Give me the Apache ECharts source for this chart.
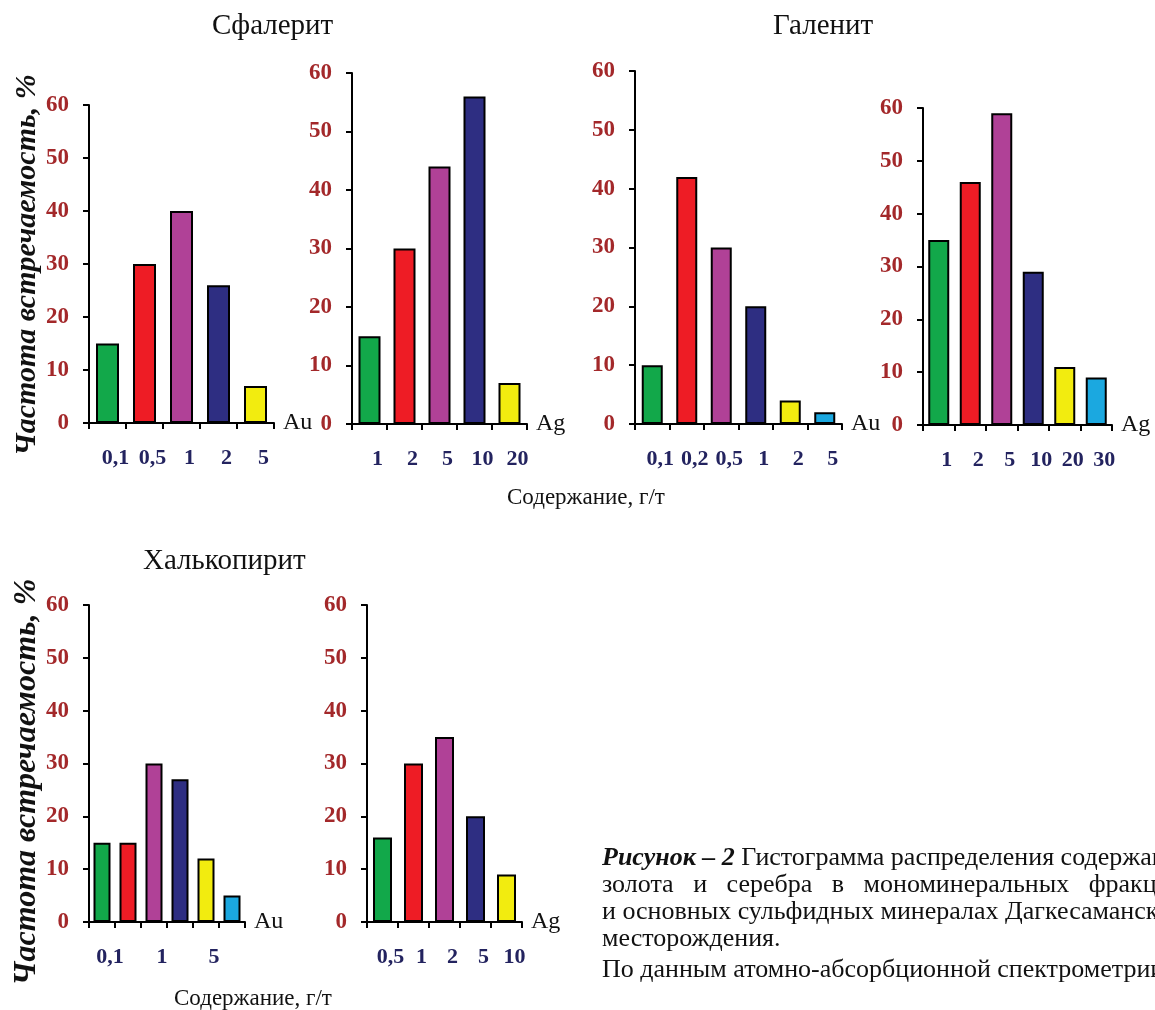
<!DOCTYPE html>
<html>
<head>
<meta charset="utf-8">
<script src="https://cdn.jsdelivr.net/npm/echarts@6/dist/echarts.min.js"></script>
<style>
html,body{margin:0;padding:0;background:#fff;}
#c{width:1155px;height:1010px;}
</style>
</head>
<body>
<div id="c"></div>
<script>
// ---- data ----
const sphAuCats = ['0,1', '0,5', '1', '2', '5'];
const sphAuVals = [15, 30, 40, 26, 7];
const sphAgCats = ['1', '2', '5', '10', '20'];
const sphAgVals = [15, 30, 44, 56, 7];
const galAuCats = ['0,1', '0,2', '0,5', '1', '2', '5'];
const galAuVals = [10, 42, 30, 20, 4, 2];
const galAgCats = ['1', '2', '5', '10', '20', '30'];
const galAgVals = [35, 46, 59, 29, 11, 9];
const chpAuCats = ['0,1', '', '1', '', '5', ''];
const chpAuVals = [15, 15, 30, 27, 12, 5];
const chpAgCats = ['0,5', '1', '2', '5', '10'];
const chpAgVals = [16, 30, 35, 20, 9];
const yMin = 0, yMax = 60, yStep = 10;
const barColors = ['#12a84a', '#ee1c25', '#b04197', '#2e2e82', '#f2ec0f', '#1ba8e0'];

const panels = [
  {cats: sphAuCats, vals: sphAuVals, name: 'Au', grid: {left: 89, top: 105, width: 185, height: 318}, bw: 23},
  {cats: sphAgCats, vals: sphAgVals, name: 'Ag', grid: {left: 352, top: 73, width: 175, height: 351}, bw: 22},
  {cats: galAuCats, vals: galAuVals, name: 'Au', grid: {left: 635, top: 71, width: 207, height: 353}, bw: 21},
  {cats: galAgCats, vals: galAgVals, name: 'Ag', grid: {left: 923, top: 108, width: 189, height: 317}, bw: 21},
  {cats: chpAuCats, vals: chpAuVals, name: 'Au', grid: {left: 89, top: 605, width: 156, height: 317}, bw: 17},
  {cats: chpAgCats, vals: chpAgVals, name: 'Ag', grid: {left: 367, top: 605, width: 155, height: 317}, bw: 19}
];

const serif = '"Liberation Serif", "DejaVu Serif", serif';
const grids = [], xAxes = [], yAxes = [], series = [];
panels.forEach((p, i) => {
  grids.push(Object.assign({containLabel: false}, p.grid));
  xAxes.push({
    type: 'category', gridIndex: i, data: p.cats,
    name: p.name, nameLocation: 'end', nameGap: 9,
    nameTextStyle: {fontFamily: serif, fontSize: 24, color: '#111', padding: [0, 0, 8, 0], verticalAlign: 'middle'},
    axisLine: {lineStyle: {color: '#000', width: 2}},
    axisTick: {show: true, length: 6, lineStyle: {color: '#000', width: 2}},
    axisLabel: {interval: 0, margin: 24, fontFamily: serif, fontWeight: 'bold', fontSize: 22, color: '#23235f', padding: [0, 0, 0, 16]},
    splitLine: {show: false}
  });
  yAxes.push({
    type: 'value', gridIndex: i, min: yMin, max: yMax, interval: yStep,
    axisLine: {show: true, lineStyle: {color: '#000', width: 2}},
    axisTick: {show: true, length: 6, lineStyle: {color: '#000', width: 2}},
    axisLabel: {margin: 20, fontFamily: serif, fontWeight: 'bold', fontSize: 23, color: '#a3282a'},
    splitLine: {show: false}
  });
  series.push({
    type: 'bar', xAxisIndex: i, yAxisIndex: i, barWidth: p.bw,
    data: p.vals.map((v, k) => ({value: v, itemStyle: {color: barColors[k]}})),
    itemStyle: {borderColor: '#000', borderWidth: 2},
    silent: true
  });
});

const titleStyle = {fontFamily: serif, fontSize: 29, fill: '#111'};
const capStyle = {fontFamily: serif, fontSize: 26, fill: '#111'};
const graphic = [
  {type: 'text', left: 212, top: 12, style: Object.assign({text: 'Сфалерит'}, titleStyle)},
  {type: 'text', left: 773, top: 12, style: Object.assign({text: 'Галенит'}, titleStyle)},
  {type: 'text', left: 143, top: 547, style: Object.assign({text: 'Халькопирит'}, titleStyle)},
  {type: 'text', left: 507, top: 486, style: {text: 'Содержание, г/т', fontFamily: serif, fontSize: 23, fill: '#111'}},
  {type: 'text', left: 174, top: 987, style: {text: 'Содержание, г/т', fontFamily: serif, fontSize: 23, fill: '#111'}},
  {type: 'text', x: 27, y: 265, rotation: Math.PI / 2,
   style: {text: 'Частота встречаемость, %', fontFamily: serif, fontSize: 30, fontWeight: 'bold', fontStyle: 'italic', fill: '#111', align: 'center', verticalAlign: 'middle'}},
  {type: 'text', x: 27, y: 782, rotation: Math.PI / 2,
   style: {text: 'Частота встречаемость, %', fontFamily: serif, fontSize: 32, fontWeight: 'bold', fontStyle: 'italic', fill: '#111', align: 'center', verticalAlign: 'middle'}},
  {type: 'text', left: 602, top: 845,
   style: Object.assign({text: '{b|Рисунок – 2} Гистограмма распределения содержаний',
     rich: {b: {fontFamily: serif, fontSize: 26, fontWeight: 'bold', fontStyle: 'italic', fill: '#111'}}}, capStyle)},
  {type: 'text', left: 602, top: 872, style: Object.assign({text: 'золота   и   серебра   в   мономинеральных   фракциях'}, capStyle)},
  {type: 'text', left: 602, top: 899, style: Object.assign({text: 'и основных сульфидных минералах Дагкесаманского'}, capStyle)},
  {type: 'text', left: 602, top: 926, style: Object.assign({text: 'месторождения.'}, capStyle)},
  {type: 'text', left: 602, top: 957, style: Object.assign({text: 'По данным атомно-абсорбционной спектрометрии.'}, capStyle)}
];

const chart = echarts.init(document.getElementById('c'), null, {renderer: 'canvas'});
chart.setOption({
  backgroundColor: '#fff',
  animation: false,
  grid: grids, xAxis: xAxes, yAxis: yAxes, series: series,
  graphic: graphic
});
</script>
</body>
</html>
